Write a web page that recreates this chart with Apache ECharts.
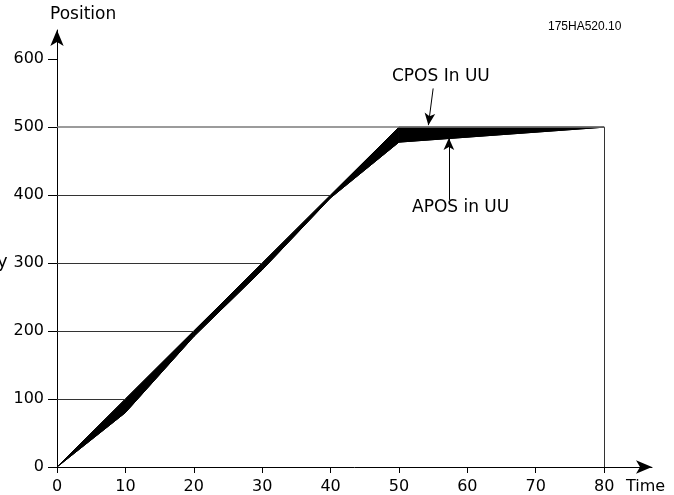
<!DOCTYPE html>
<html>
<head>
<meta charset="utf-8">
<script src="https://cdn.jsdelivr.net/npm/echarts@6/dist/echarts.min.js"></script>
<style>
  html, body { margin: 0; padding: 0; background: #fff; }
  #chart { width: 674px; height: 495px; }
</style>
</head>
<body>
<div id="chart"></div>
<script>
// time points and positions (user units)
const times = [0, 10, 20, 30, 40, 50, 80];
const cpos = [0, 100, 200, 300, 400, 500, 500];
const apos = [0, 80, 192, 290, 396, 478, 500];

// guide lines: level and where they stop on the time axis
const guideLevels = [100, 200, 300, 400, 500];
const guideEnds = [10, 20, 30, 40, 80];

const xTicks = [0, 10, 20, 30, 40, 50, 60, 70, 80];
const yTicks = [0, 100, 200, 300, 400, 500, 600];

const FONT = 'DejaVu Sans';

const chart = echarts.init(document.getElementById('chart'));

// one item per segment: [t0, t1, cpos0, cpos1, apos0, apos1]
const segments = [];
for (let i = 0; i < times.length - 1; i++) {
  segments.push([times[i], times[i + 1], cpos[i], cpos[i + 1], apos[i], apos[i + 1]]);
}

function renderBand(params, api) {
  const a = api.coord([api.value(0), api.value(2)]);
  const b = api.coord([api.value(1), api.value(3)]);
  const c = api.coord([api.value(1), api.value(5)]);
  const d = api.coord([api.value(0), api.value(4)]);
  return {
    type: 'polygon',
    shape: { points: [a, b, c, d] },
    style: { fill: '#000', stroke: '#000', lineWidth: 1 }
  };
}

const guideLines = guideLevels.map((v, i) => {
  const last = i === guideLevels.length - 1;
  return [
    { coord: [0, v], lineStyle: { color: last ? '#7a7a7a' : '#333', width: last ? 1.5 : 1, type: 'solid' } },
    { coord: [guideEnds[i], v] }
  ];
});
// vertical drop at the end of the move
guideLines.push([{ coord: [80, 0], lineStyle: { color: '#333', width: 1, type: 'solid' } }, { coord: [80, 500] }]);

chart.setOption({
  animation: false,
  grid: { left: 57, right: 22, top: 30, bottom: 28 },
  xAxis: {
    type: 'value',
    min: 0,
    max: 87,
    axisLine: { lineStyle: { color: '#000', width: 1 }, symbol: ['none', 'arrow'], symbolSize: [10, 16] },
    axisTick: { customValues: xTicks, length: 6, lineStyle: { color: '#000' } },
    axisLabel: { customValues: xTicks, color: '#000', fontFamily: FONT, fontSize: 16, margin: 12 },
    splitLine: { show: false }
  },
  yAxis: {
    type: 'value',
    min: 0,
    max: 643,
    axisLine: { show: true, lineStyle: { color: '#000', width: 1 }, symbol: ['none', 'arrow'], symbolSize: [10, 16] },
    axisTick: { show: true, customValues: yTicks, length: 9, lineStyle: { color: '#000' } },
    axisLabel: { customValues: yTicks, color: '#000', fontFamily: FONT, fontSize: 16, margin: 13 },
    splitLine: { show: false }
  },
  series: [
    {
      name: 'guides',
      type: 'line',
      data: [],
      markLine: {
        silent: true,
        symbol: 'none',
        label: { show: false },
        data: guideLines
      }
    },
    {
      name: 'band',
      type: 'custom',
      renderItem: renderBand,
      data: segments,
      encode: { x: [0, 1], y: [2, 3, 4, 5] },
      z: 3
    },
    {
      name: 'CPOS',
      type: 'line',
      data: times.map((t, i) => [t, cpos[i]]),
      symbol: 'none',
      lineStyle: { color: '#000', width: 1 },
      z: 4,
      markLine: {
        silent: true,
        symbol: ['none', 'arrow'],
        symbolSize: [8, 12],
        label: { show: false },
        lineStyle: { color: '#000', width: 1, type: 'solid' },
        data: [
          [{ coord: [55.0, 557] }, { coord: [54.3, 503] }],
          [{ coord: [57.3, 393] }, { coord: [57.3, 484] }]
        ]
      }
    },
    {
      name: 'APOS',
      type: 'line',
      data: times.map((t, i) => [t, apos[i]]),
      symbol: 'none',
      lineStyle: { color: '#000', width: 1 },
      z: 4
    }
  ],
  graphic: [
    { type: 'text', left: 50, top: 6, style: { text: 'Position', font: '17px "DejaVu Sans"', fill: '#000' } },
    { type: 'text', left: 626, top: 479, style: { text: 'Time', font: '16px "DejaVu Sans"', fill: '#000' } },
    { type: 'text', left: 548, top: 21, style: { text: '175HA520.10', font: '12px "Liberation Sans"', fill: '#000' } },
    { type: 'text', left: 392, top: 68, style: { text: 'CPOS In UU', font: '17px "DejaVu Sans"', fill: '#000' } },
    { type: 'text', left: 412, top: 199, style: { text: 'APOS in UU', font: '17px "DejaVu Sans"', fill: '#000' } },
    { type: 'text', left: -3, top: 253, style: { text: 'y', font: '18px "DejaVu Sans"', fill: '#000' } }
  ]
});
</script>
</body>
</html>
